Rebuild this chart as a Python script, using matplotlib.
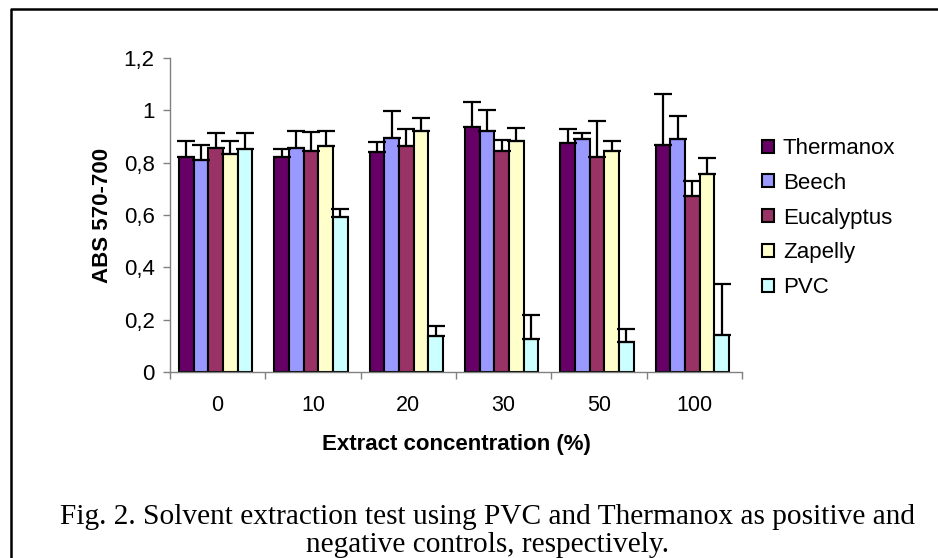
from matplotlib import pyplot as plt
from matplotlib.lines import Line2D
from numpy import arange, array, zeros

## Dados
concentrations = ['0', '10', '20', '30', '50', '100']
series_names = ['Thermanox', 'Beech', 'Eucalyptus', 'Zapelly', 'PVC']
series_colors = ['#660066', '#9999FF', '#993366', '#FFFFCC', '#CCFFFF']

thermanox = [0.820, 0.823, 0.840, 0.937, 0.873, 0.868]
beech = [0.808, 0.856, 0.894, 0.922, 0.890, 0.890]
eucalyptus = [0.855, 0.845, 0.864, 0.845, 0.822, 0.672]
zapelly = [0.834, 0.865, 0.922, 0.883, 0.845, 0.756]
pvc = [0.852, 0.594, 0.140, 0.126, 0.115, 0.142]

thermanox_err = [0.064, 0.030, 0.039, 0.095, 0.054, 0.195]
beech_err = [0.058, 0.064, 0.103, 0.079, 0.023, 0.086]
eucalyptus_err = [0.057, 0.072, 0.063, 0.042, 0.137, 0.059]
zapelly_err = [0.050, 0.057, 0.047, 0.049, 0.038, 0.061]
pvc_err = [0.061, 0.030, 0.037, 0.093, 0.050, 0.196]

yticks = [0, 0.2, 0.4, 0.6, 0.8, 1.0, 1.2]
ytick_labels = ['0', '0,2', '0,4', '0,6', '0,8', '1', '1,2']

values = [thermanox, beech, eucalyptus, zapelly, pvc]
errors = [thermanox_err, beech_err, eucalyptus_err, zapelly_err, pvc_err]

## Figura
plt.rcParams['font.family'] = ['Liberation Sans', 'DejaVu Sans']
fig = plt.figure(figsize=(9.38, 5.58), dpi=100)
ax = fig.add_axes([170 / 938, 1 - 372.3 / 558, 572 / 938, (372.3 - 57.7) / 558])

# Barras
x = arange(len(concentrations))
width = 0.154
for i, (name, vals, errs, color) in enumerate(zip(series_names, values, errors, series_colors)):
    pos = x + (i - 2) * width - 0.02
    ax.bar(pos, vals, width=width, color=color, edgecolor='black', linewidth=1.5, label=name, zorder=2)
    ax.errorbar(pos, vals, yerr=[zeros(len(errs)), array(errs)], fmt='none', ecolor='black',
                elinewidth=1.6, capsize=6.5, capthick=1.6, zorder=3)

# Eixos
ax.set_xlim(-0.5, len(concentrations) - 0.5)
ax.set_ylim(0, 1.2)
ax.set_yticks(yticks)
ax.set_yticklabels(ytick_labels)
ax.set_xticks(x)
ax.set_xticklabels(concentrations)
ax.set_xticks(arange(len(concentrations) + 1) - 0.5, minor=True)
ax.tick_params(axis='x', which='major', length=0, pad=16, labelsize=15.5)
ax.tick_params(axis='x', which='minor', length=5, color='#808080', width=1)
ax.tick_params(axis='y', length=5, color='#808080', width=1, labelsize=16, pad=6)
for side in ['top', 'right']:
    ax.spines[side].set_visible(False)
for side in ['left', 'bottom']:
    ax.spines[side].set_color('#808080')
    ax.spines[side].set_linewidth(1)

ax.set_xlabel('Extract concentration (%)', fontsize=16, fontweight='bold', labelpad=13)
ax.set_ylabel('ABS 570-700', fontsize=16, fontweight='bold', labelpad=8)

# Legenda
ax.legend(loc='upper left', bbox_to_anchor=(762 / 938, 1 - 138 / 558), bbox_transform=fig.transFigure,
          frameon=False, fontsize=16, handlelength=0.52, handleheight=0.52, handletextpad=0.42,
          labelspacing=0.62, borderpad=0, borderaxespad=0)

# Legenda da figura
fig.text(487 / 938, 1 - 517 / 558, 'Fig. 2. Solvent extraction test using PVC and Thermanox as positive and',
         ha='center', va='center', fontsize=21.2, family=['Liberation Serif', 'DejaVu Serif'])
fig.text(487 / 938, 1 - 545 / 558, 'negative controls, respectively.',
         ha='center', va='center', fontsize=21.2, family=['Liberation Serif', 'DejaVu Serif'])

# Moldura
fig.add_artist(Line2D([11 / 938, 11 / 938, 1], [0, 1 - 9 / 558, 1 - 9 / 558],
                      transform=fig.transFigure, color='black', linewidth=1.8))

fig.savefig('out.png', dpi=100)
plt.close(fig)
